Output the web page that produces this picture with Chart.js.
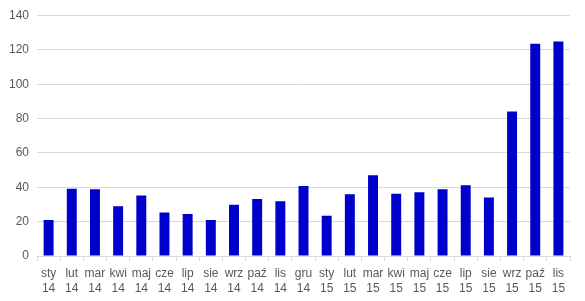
<!DOCTYPE html>
<html>
<head>
<meta charset="utf-8">
<script src="https://cdn.jsdelivr.net/npm/chart.js@4"></script>
<style>
    html, body { margin: 0; padding: 0; background: #fff; }
    #wrap { width: 585px; height: 301px; position: relative; }
</style>
</head>
<body>
<div id="wrap"><canvas id="chart"></canvas></div>
<script>
// dane
const months = ['sty', 'lut', 'mar', 'kwi', 'maj', 'cze', 'lip', 'sie', 'wrz', 'paź', 'lis', 'gru',
                'sty', 'lut', 'mar', 'kwi', 'maj', 'cze', 'lip', 'sie', 'wrz', 'paź', 'lis'];
const years = ['14', '14', '14', '14', '14', '14', '14', '14', '14', '14', '14', '14',
               '15', '15', '15', '15', '15', '15', '15', '15', '15', '15', '15'];
const values = [21.0, 39.2, 38.8, 29.0, 35.2, 25.3, 24.5, 20.9, 29.8, 33.2, 31.9, 40.8,
                23.4, 36.0, 47.0, 36.3, 37.1, 38.9, 41.2, 34.0, 84.1, 123.5, 124.9];
const yTicks = [0, 20, 40, 60, 80, 100, 120, 140];

const labels = months.map((m, i) => [m, years[i]]);

const tickFont = { family: "'Liberation Sans', sans-serif", size: 12, lineHeight: 1.25 };

const ctx = document.getElementById('chart').getContext('2d');
new Chart(ctx, {
    type: 'bar',
    data: {
        labels: labels,
        datasets: [{
            data: values,
            backgroundColor: '#0000cc',
            borderWidth: 0,
            barPercentage: 0.86,
            categoryPercentage: 0.5
        }]
    },
    options: {
        responsive: true,
        maintainAspectRatio: false,
        animation: false,
        layout: { padding: { left: 1, right: 15, top: 7, bottom: 0 } },
        plugins: {
            legend: { display: false },
            tooltip: { enabled: false }
        },
        scales: {
            x: {
                offset: true,
                border: { display: true, color: '#d9d9d9' },
                grid: {
                    offset: true,
                    drawOnChartArea: false,
                    drawTicks: true,
                    tickLength: 5,
                    color: '#d9d9d9'
                },
                ticks: {
                    color: '#595959',
                    font: tickFont,
                    maxRotation: 0,
                    autoSkip: false,
                    padding: 5
                }
            },
            y: {
                min: 0,
                max: 140,
                afterBuildTicks: axis => { axis.ticks = yTicks.map(v => ({ value: v })); },
                border: { display: false },
                grid: { color: '#d9d9d9', drawTicks: false },
                ticks: {
                    color: '#595959',
                    font: tickFont,
                    padding: 8
                }
            }
        }
    }
});
</script>
</body>
</html>
